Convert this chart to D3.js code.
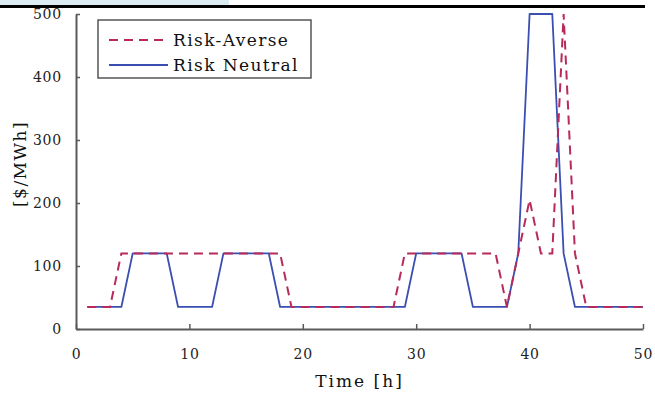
<!DOCTYPE html>
<html>
<head>
<meta charset="utf-8">
<script src="https://cdn.jsdelivr.net/npm/d3@7"></script>
<style>
  html, body { margin: 0; padding: 0; background: #fff; }
  svg { display: block; }
</style>
</head>
<body>
<svg id="chart" width="655" height="393"></svg>
<script>
// Hourly electricity prices [$/MWh] under two bidding strategies
const hours = [1,2,3,4,5,6,7,8,9,10,11,12,13,14,15,16,17,18,19,20,21,22,23,24,25,
               26,27,28,29,30,31,32,33,34,35,36,37,38,39,40,41,42,43,44,45,46,47,48,49,50];
const riskAverse = [35,35,35,120,120,120,120,120,120,120,120,120,120,120,120,120,120,120,35,35,
                    35,35,35,35,35,35,35,35,120,120,120,120,120,120,120,120,120,35,120,205,
                    120,120,500,120,35,35,35,35,35,35];
const riskNeutral = [35,35,35,35,120,120,120,120,35,35,35,35,120,120,120,120,120,35,35,35,
                     35,35,35,35,35,35,35,35,35,120,120,120,120,120,35,35,35,35,120,500,
                     500,500,120,35,35,35,35,35,35,35];
const xTicks = [0,10,20,30,40,50];
const yTicks = [0,100,200,300,400,500];
const seriesNames = ["Risk-Averse", "Risk Neutral"];
const seriesColors = ["#b8295c", "#3b4fb2"];

const svg = d3.select("#chart");
const serif = "'DejaVu Serif', serif";

// header strip
svg.append("rect").attr("x", 0).attr("y", 0).attr("width", 229).attr("height", 5).attr("fill", "#dbebf2");
svg.append("rect").attr("x", 0).attr("y", 5).attr("width", 645).attr("height", 3).attr("fill", "#000");

const x = d3.scaleLinear().domain([0, 50]).range([76, 643]);
const y = d3.scaleLinear().domain([0, 500]).range([329, 14]);

const axisColor = "#5a5a5a";

// y axis (ticks pointing inward)
const gy = svg.append("g").attr("transform", `translate(${x(0)},0)`)
  .call(d3.axisLeft(y).tickValues(yTicks).tickSizeInner(-4).tickSizeOuter(0).tickPadding(14));
// x axis
const gx = svg.append("g").attr("transform", `translate(0,${y(0)})`)
  .call(d3.axisBottom(x).tickValues(xTicks).tickSizeInner(-5).tickSizeOuter(0).tickPadding(20));

[gx, gy].forEach(g => {
  g.select(".domain").attr("stroke", axisColor).attr("stroke-width", 2);
  g.selectAll(".tick line").attr("stroke", axisColor).attr("stroke-width", 1.5);
  g.selectAll(".tick text").attr("fill", "#222").style("font-family", serif)
    .style("font-size", "14px").style("letter-spacing", "0.8px");
});

// axis titles
svg.append("text").attr("x", (x(0) + x(50)) / 2).attr("y", 387).attr("text-anchor", "middle")
  .style("font-family", serif).style("font-size", "17px").style("letter-spacing", "2px")
  .attr("fill", "#111").text("Time [h]");
svg.append("text").attr("transform", `translate(26,164) rotate(-90)`).attr("text-anchor", "middle")
  .style("font-family", serif).style("font-size", "17px").style("letter-spacing", "1.5px")
  .attr("fill", "#111").text("[$/MWh]");

// price lines
const line = d3.line().x((d, i) => x(hours[i])).y(d => y(d));
svg.append("path").datum(riskNeutral).attr("d", line).attr("fill", "none")
  .attr("stroke", seriesColors[1]).attr("stroke-width", 1.8).attr("stroke-linejoin", "round");
svg.append("path").datum(riskAverse).attr("d", line).attr("fill", "none")
  .attr("stroke", seriesColors[0]).attr("stroke-width", 2).attr("stroke-dasharray", "9,6");

// legend
const lg = svg.append("g");
lg.append("rect").attr("x", 98).attr("y", 20).attr("width", 213).attr("height", 58)
  .attr("fill", "#fff").attr("stroke", "#555").attr("stroke-width", 1.5);
seriesNames.forEach((name, i) => {
  const ly = 40 + i * 25;
  lg.append("line").attr("x1", 109).attr("x2", 168).attr("y1", ly).attr("y2", ly)
    .attr("stroke", seriesColors[i]).attr("stroke-width", i === 0 ? 2 : 1.8)
    .attr("stroke-dasharray", i === 0 ? "9,6" : null);
  lg.append("text").attr("x", 173).attr("y", ly + 6).style("font-family", serif)
    .style("font-size", "17px").style("letter-spacing", "1.4px").attr("fill", "#111").text(name);
});
</script>
</body>
</html>
